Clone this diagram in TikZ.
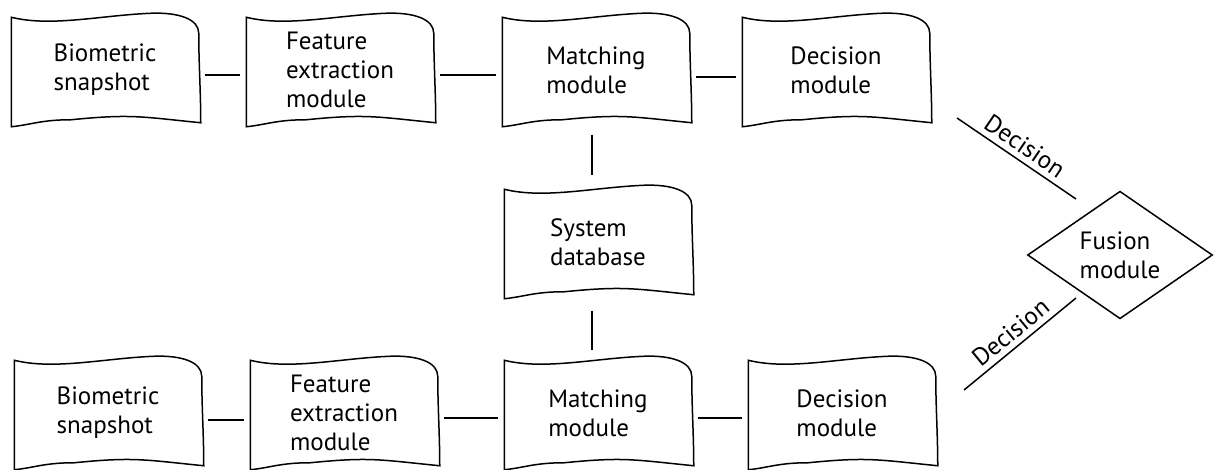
\documentclass[tikz,border=0pt]{standalone}
\usepackage{fontspec}
\setmainfont{PT Sans}
\usetikzlibrary{shapes.geometric}

\begin{document}
\begin{tikzpicture}[x=1pt, y=-1pt, line width=1.5pt]

\tikzstyle{every node} = [font=\fontsize{25}{29}\selectfont, align=left]
\tikzstyle{card} = [rectangle, minimum width=186pt, minimum height=112pt, inner sep=0pt]
\tikzstyle{link} = [-, shorten <=6pt, shorten >=6pt]

\useasboundingbox (0,0) rectangle (1214,470);

% upper chain
\node[card] (s1) at (105,70) {Biometric\\snapshot};
\node[card] (f1) at (340,70) {Feature\\extraction\\module};
\node[card] (m1) at (596,70) {Matching\\module};
\node[card] (d1) at (836,70) {Decision\\module};

% database
\node[card] (db) at (598,242) {System\\database};

% lower chain
\node[card] (s2) at (108,413) {Biometric\\snapshot};
\node[card] (f2) at (344,413) {Feature\\extraction\\module};
\node[card] (m2) at (598,413) {Matching\\module};
\node[card] (d2) at (842,413) {Decision\\module};

\node[diamond, draw, minimum width=185pt, minimum height=118pt, inner sep=0pt] (fu) at (1120,255) {Fusion\\module};

% wavy outlines
\foreach \n in {s1,f1,m1,d1,db,s2,f2,m2,d2}
  \draw ([shift={(0,4)}]\n.north west)
    .. controls +(40,10) and +(-50,2) .. ([shift={(140,0)}]\n.north west)
    .. controls +(28,-1) and +(0,-14) .. ([shift={(0,20)}]\n.north east)
    .. controls +(0,30) and +(0,-30) .. ([shift={(2,-4)}]\n.south east)
    .. controls +(-60,-6) and +(60,-6) .. ([shift={(60,-7)}]\n.south west)
    .. controls +(-30,0) and +(20,-2) .. (\n.south west)
    -- cycle;

\draw[link] ([yshift=-5pt]s1.east) -- ([yshift=-5pt]f1.west);
\draw[link] ([yshift=-5pt]f1.east) -- ([yshift=-5pt]m1.west);
\draw[link] ([yshift=-7pt]m1.east) -- ([yshift=-7pt]d1.west);

\draw[-, shorten <=8pt, shorten >=10pt] ([xshift=-4pt]m1.south) -- ([xshift=-6pt]db.north);
\draw[-, shorten <=12pt, shorten >=6pt] ([xshift=-6pt]db.south) -- ([xshift=-6pt]m2.north);

\draw[link] ([yshift=-7pt]s2.east) -- ([yshift=-7pt]f2.west);
\draw[link] ([yshift=-5pt]f2.east) -- ([yshift=-5pt]m2.west);
\draw[link] ([yshift=-5pt]m2.east) -- ([yshift=-5pt]d2.west);

\coordinate (a1) at (957,118);
\coordinate (b1) at (1076,199);
\coordinate (a2) at (964,390);
\coordinate (b2) at (1076,298);

\draw[-] (a1) -- node[midway, above=2pt, sloped] {Decision} (b1);
\draw[-] (a2) -- node[midway, above=2pt, sloped] {Decision} (b2);
\end{tikzpicture}
\end{document}
